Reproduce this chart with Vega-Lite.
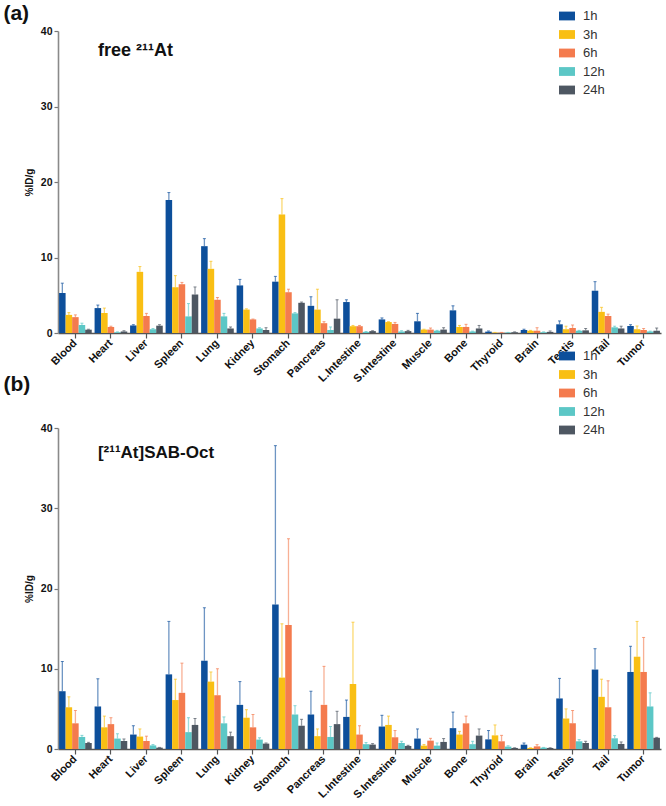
{
  "$schema": "https://vega.github.io/schema/vega-lite/v6.json",
  "padding": {"left": 3, "top": 3, "right": 4, "bottom": 4},
  "background": "white",
  "config": {
    "font": "Liberation Sans",
    "view": {"stroke": null},
    "axis": {"grid": false}
  },
  "datasets": {
    "d": [
      {"p":"a","o":"Blood","t":"1h","m":5.3,"e":6.6},{"p":"a","o":"Blood","t":"3h","m":2.4,"e":2.7},{"p":"a","o":"Blood","t":"6h","m":2.1,"e":2.4},{"p":"a","o":"Blood","t":"12h","m":1.06,"e":1.3},{"p":"a","o":"Blood","t":"24h","m":0.44,"e":0.5},
      {"p":"a","o":"Heart","t":"1h","m":3.3,"e":3.7},{"p":"a","o":"Heart","t":"3h","m":2.65,"e":3.3},{"p":"a","o":"Heart","t":"6h","m":0.8,"e":0.9},{"p":"a","o":"Heart","t":"12h","m":0.1,"e":0.15},{"p":"a","o":"Heart","t":"24h","m":0.2,"e":0.3},
      {"p":"a","o":"Liver","t":"1h","m":1.0,"e":1.1},{"p":"a","o":"Liver","t":"3h","m":8.1,"e":8.8},{"p":"a","o":"Liver","t":"6h","m":2.25,"e":2.6},{"p":"a","o":"Liver","t":"12h","m":0.5,"e":0.6},{"p":"a","o":"Liver","t":"24h","m":0.97,"e":1.1},
      {"p":"a","o":"Spleen","t":"1h","m":17.6,"e":18.6},{"p":"a","o":"Spleen","t":"3h","m":6.06,"e":7.6},{"p":"a","o":"Spleen","t":"6h","m":6.46,"e":6.7},{"p":"a","o":"Spleen","t":"12h","m":2.2,"e":3.9},{"p":"a","o":"Spleen","t":"24h","m":5.1,"e":6.1},
      {"p":"a","o":"Lung","t":"1h","m":11.5,"e":12.5},{"p":"a","o":"Lung","t":"3h","m":8.5,"e":9.5},{"p":"a","o":"Lung","t":"6h","m":4.4,"e":4.7},{"p":"a","o":"Lung","t":"12h","m":2.2,"e":2.6},{"p":"a","o":"Lung","t":"24h","m":0.6,"e":0.8},
      {"p":"a","o":"Kidney","t":"1h","m":6.3,"e":7.1},{"p":"a","o":"Kidney","t":"3h","m":3.1,"e":3.2},{"p":"a","o":"Kidney","t":"6h","m":1.8,"e":1.85},{"p":"a","o":"Kidney","t":"12h","m":0.6,"e":0.7},{"p":"a","o":"Kidney","t":"24h","m":0.4,"e":0.7},
      {"p":"a","o":"Stomach","t":"1h","m":6.8,"e":7.5},{"p":"a","o":"Stomach","t":"3h","m":15.7,"e":17.8},{"p":"a","o":"Stomach","t":"6h","m":5.4,"e":5.8},{"p":"a","o":"Stomach","t":"12h","m":2.6,"e":2.7},{"p":"a","o":"Stomach","t":"24h","m":4.0,"e":4.1},
      {"p":"a","o":"Pancreas","t":"1h","m":3.6,"e":4.8},{"p":"a","o":"Pancreas","t":"3h","m":3.1,"e":5.8},{"p":"a","o":"Pancreas","t":"6h","m":1.3,"e":1.5},{"p":"a","o":"Pancreas","t":"12h","m":0.4,"e":0.8},{"p":"a","o":"Pancreas","t":"24h","m":1.9,"e":4.4},
      {"p":"a","o":"L.Intestine","t":"1h","m":4.1,"e":4.4},{"p":"a","o":"L.Intestine","t":"3h","m":0.9,"e":1.0},{"p":"a","o":"L.Intestine","t":"6h","m":0.9,"e":1.0},{"p":"a","o":"L.Intestine","t":"12h","m":0.15,"e":0.2},{"p":"a","o":"L.Intestine","t":"24h","m":0.25,"e":0.3},
      {"p":"a","o":"S.Intestine","t":"1h","m":1.8,"e":2.0},{"p":"a","o":"S.Intestine","t":"3h","m":1.45,"e":1.5},{"p":"a","o":"S.Intestine","t":"6h","m":1.2,"e":1.4},{"p":"a","o":"S.Intestine","t":"12h","m":0.2,"e":0.3},{"p":"a","o":"S.Intestine","t":"24h","m":0.25,"e":0.35},
      {"p":"a","o":"Muscle","t":"1h","m":1.55,"e":2.6},{"p":"a","o":"Muscle","t":"3h","m":0.45,"e":0.5},{"p":"a","o":"Muscle","t":"6h","m":0.45,"e":0.66},{"p":"a","o":"Muscle","t":"12h","m":0.3,"e":0.35},{"p":"a","o":"Muscle","t":"24h","m":0.45,"e":0.7},
      {"p":"a","o":"Bone","t":"1h","m":3.0,"e":3.6},{"p":"a","o":"Bone","t":"3h","m":0.8,"e":1.0},{"p":"a","o":"Bone","t":"6h","m":0.8,"e":1.15},{"p":"a","o":"Bone","t":"12h","m":0.2,"e":0.25},{"p":"a","o":"Bone","t":"24h","m":0.6,"e":1.0},
      {"p":"a","o":"Thyroid","t":"1h","m":0.18,"e":0.27},{"p":"a","o":"Thyroid","t":"3h","m":0.05,"e":0.08},{"p":"a","o":"Thyroid","t":"6h","m":0.05,"e":0.08},{"p":"a","o":"Thyroid","t":"12h","m":0.05,"e":0.08},{"p":"a","o":"Thyroid","t":"24h","m":0.1,"e":0.15},
      {"p":"a","o":"Brain","t":"1h","m":0.4,"e":0.5},{"p":"a","o":"Brain","t":"3h","m":0.3,"e":0.35},{"p":"a","o":"Brain","t":"6h","m":0.3,"e":0.7},{"p":"a","o":"Brain","t":"12h","m":0.1,"e":0.15},{"p":"a","o":"Brain","t":"24h","m":0.15,"e":0.27},
      {"p":"a","o":"Testis","t":"1h","m":1.15,"e":1.6},{"p":"a","o":"Testis","t":"3h","m":0.5,"e":0.9},{"p":"a","o":"Testis","t":"6h","m":0.66,"e":1.06},{"p":"a","o":"Testis","t":"12h","m":0.3,"e":0.35},{"p":"a","o":"Testis","t":"24h","m":0.35,"e":0.6},
      {"p":"a","o":"Tail","t":"1h","m":5.6,"e":6.8},{"p":"a","o":"Tail","t":"3h","m":2.8,"e":3.4},{"p":"a","o":"Tail","t":"6h","m":2.25,"e":2.5},{"p":"a","o":"Tail","t":"12h","m":0.75,"e":0.9},{"p":"a","o":"Tail","t":"24h","m":0.6,"e":0.9},
      {"p":"a","o":"Tumor","t":"1h","m":0.93,"e":1.1},{"p":"a","o":"Tumor","t":"3h","m":0.5,"e":0.93},{"p":"a","o":"Tumor","t":"6h","m":0.4,"e":0.6},{"p":"a","o":"Tumor","t":"12h","m":0.2,"e":0.25},{"p":"a","o":"Tumor","t":"24h","m":0.3,"e":0.66},
      {"p":"b","o":"Blood","t":"1h","m":7.2,"e":10.9},{"p":"b","o":"Blood","t":"3h","m":5.2,"e":6.5},{"p":"b","o":"Blood","t":"6h","m":3.2,"e":4.8},{"p":"b","o":"Blood","t":"12h","m":1.5,"e":1.7},{"p":"b","o":"Blood","t":"24h","m":0.75,"e":0.83},
      {"p":"b","o":"Heart","t":"1h","m":5.3,"e":8.75},{"p":"b","o":"Heart","t":"3h","m":2.7,"e":4.1},{"p":"b","o":"Heart","t":"6h","m":3.1,"e":3.9},{"p":"b","o":"Heart","t":"12h","m":1.3,"e":1.9},{"p":"b","o":"Heart","t":"24h","m":1.0,"e":1.25},
      {"p":"b","o":"Liver","t":"1h","m":1.8,"e":2.9},{"p":"b","o":"Liver","t":"3h","m":1.55,"e":2.5},{"p":"b","o":"Liver","t":"6h","m":1.0,"e":1.6},{"p":"b","o":"Liver","t":"12h","m":0.45,"e":0.55},{"p":"b","o":"Liver","t":"24h","m":0.17,"e":0.2},
      {"p":"b","o":"Spleen","t":"1h","m":9.3,"e":15.9},{"p":"b","o":"Spleen","t":"3h","m":6.1,"e":8.7},{"p":"b","o":"Spleen","t":"6h","m":7.0,"e":10.7},{"p":"b","o":"Spleen","t":"12h","m":2.1,"e":3.9},{"p":"b","o":"Spleen","t":"24h","m":3.0,"e":3.8},
      {"p":"b","o":"Lung","t":"1h","m":11.0,"e":17.6},{"p":"b","o":"Lung","t":"3h","m":8.4,"e":9.6},{"p":"b","o":"Lung","t":"6h","m":6.7,"e":10.0},{"p":"b","o":"Lung","t":"12h","m":3.2,"e":4.0},{"p":"b","o":"Lung","t":"24h","m":1.6,"e":2.1},
      {"p":"b","o":"Kidney","t":"1h","m":5.5,"e":8.4},{"p":"b","o":"Kidney","t":"3h","m":3.9,"e":4.9},{"p":"b","o":"Kidney","t":"6h","m":2.7,"e":4.3},{"p":"b","o":"Kidney","t":"12h","m":1.17,"e":1.4},{"p":"b","o":"Kidney","t":"24h","m":0.67,"e":0.75},
      {"p":"b","o":"Stomach","t":"1h","m":18.0,"e":37.8},{"p":"b","o":"Stomach","t":"3h","m":8.9,"e":15.6},{"p":"b","o":"Stomach","t":"6h","m":15.45,"e":26.2},{"p":"b","o":"Stomach","t":"12h","m":4.3,"e":5.4},{"p":"b","o":"Stomach","t":"24h","m":2.9,"e":3.7},
      {"p":"b","o":"Pancreas","t":"1h","m":4.3,"e":7.2},{"p":"b","o":"Pancreas","t":"3h","m":1.6,"e":2.5},{"p":"b","o":"Pancreas","t":"6h","m":5.5,"e":10.3},{"p":"b","o":"Pancreas","t":"12h","m":1.5,"e":2.8},{"p":"b","o":"Pancreas","t":"24h","m":3.1,"e":4.7},
      {"p":"b","o":"L.Intestine","t":"1h","m":4.0,"e":6.1},{"p":"b","o":"L.Intestine","t":"3h","m":8.1,"e":15.8},{"p":"b","o":"L.Intestine","t":"6h","m":1.8,"e":2.9},{"p":"b","o":"L.Intestine","t":"12h","m":0.6,"e":0.8},{"p":"b","o":"L.Intestine","t":"24h","m":0.55,"e":0.67},
      {"p":"b","o":"S.Intestine","t":"1h","m":2.8,"e":4.2},{"p":"b","o":"S.Intestine","t":"3h","m":3.0,"e":4.1},{"p":"b","o":"S.Intestine","t":"6h","m":1.46,"e":2.3},{"p":"b","o":"S.Intestine","t":"12h","m":0.75,"e":0.96},{"p":"b","o":"S.Intestine","t":"24h","m":0.38,"e":0.46},
      {"p":"b","o":"Muscle","t":"1h","m":1.3,"e":2.5},{"p":"b","o":"Muscle","t":"3h","m":0.42,"e":0.55},{"p":"b","o":"Muscle","t":"6h","m":1.04,"e":1.33},{"p":"b","o":"Muscle","t":"12h","m":0.42,"e":0.75},{"p":"b","o":"Muscle","t":"24h","m":0.88,"e":1.3},
      {"p":"b","o":"Bone","t":"1h","m":2.6,"e":4.6},{"p":"b","o":"Bone","t":"3h","m":1.8,"e":2.2},{"p":"b","o":"Bone","t":"6h","m":3.2,"e":4.1},{"p":"b","o":"Bone","t":"12h","m":0.6,"e":0.96},{"p":"b","o":"Bone","t":"24h","m":1.67,"e":2.5},
      {"p":"b","o":"Thyroid","t":"1h","m":1.2,"e":2.3},{"p":"b","o":"Thyroid","t":"3h","m":1.7,"e":3.0},{"p":"b","o":"Thyroid","t":"6h","m":0.96,"e":1.7},{"p":"b","o":"Thyroid","t":"12h","m":0.3,"e":0.4},{"p":"b","o":"Thyroid","t":"24h","m":0.13,"e":0.15},
      {"p":"b","o":"Brain","t":"1h","m":0.54,"e":0.75},{"p":"b","o":"Brain","t":"3h","m":0.13,"e":0.15},{"p":"b","o":"Brain","t":"6h","m":0.33,"e":0.54},{"p":"b","o":"Brain","t":"12h","m":0.17,"e":0.2},{"p":"b","o":"Brain","t":"24h","m":0.13,"e":0.15},
      {"p":"b","o":"Testis","t":"1h","m":6.3,"e":8.8},{"p":"b","o":"Testis","t":"3h","m":3.8,"e":5.0},{"p":"b","o":"Testis","t":"6h","m":3.2,"e":4.8},{"p":"b","o":"Testis","t":"12h","m":0.96,"e":1.17},{"p":"b","o":"Testis","t":"24h","m":0.75,"e":0.96},
      {"p":"b","o":"Tail","t":"1h","m":9.9,"e":12.5},{"p":"b","o":"Tail","t":"3h","m":6.5,"e":8.7},{"p":"b","o":"Tail","t":"6h","m":5.2,"e":8.5},{"p":"b","o":"Tail","t":"12h","m":1.33,"e":1.67},{"p":"b","o":"Tail","t":"24h","m":0.63,"e":0.88},
      {"p":"b","o":"Tumor","t":"1h","m":9.6,"e":12.8},{"p":"b","o":"Tumor","t":"3h","m":11.5,"e":15.9},{"p":"b","o":"Tumor","t":"6h","m":9.6,"e":13.9},{"p":"b","o":"Tumor","t":"12h","m":5.3,"e":7.0},{"p":"b","o":"Tumor","t":"24h","m":1.4,"e":1.45}
    ],
    "labels": [
      {"p":"a","label":"free ²¹¹At","y":37.4,"tag":"(a)"},
      {"p":"b","label":"[²¹¹At]SAB-Oct","y":36.9,"tag":"(b)"}
    ]
  },
  "bounds": "flush",
  "spacing": 95,
  "resolve": {"scale": {"y": "independent", "x": "independent"}, "legend": {"color": "independent"}},
  "vconcat": [
    {
      "width": 603,
      "height": 302,
      "layer": [
        {
          "data": {"name": "d"},
          "transform": [{"filter": "datum.p == 'a'"}],
          "mark": {"type": "bar"},
          "encoding": {
            "x": {"field": "o", "type": "nominal", "sort": ["Blood","Heart","Liver","Spleen","Lung","Kidney","Stomach","Pancreas","L.Intestine","S.Intestine","Muscle","Bone","Thyroid","Brain","Testis","Tail","Tumor"], "scale": {"paddingInner": 0.08, "paddingOuter": 0.03},
              "axis": {"title": null, "labelAngle": -45, "labelAlign": "right", "labelBaseline": "middle", "labelFontSize": 11, "labelFontWeight": "bold", "labelColor": "#111", "labelPadding": 3, "domainColor": "#555", "domainWidth": 1.5, "tickColor": "#555", "tickWidth": 1.2, "tickSize": 5}},
            "xOffset": {"field": "t", "type": "nominal", "sort": ["1h","3h","6h","12h","24h"], "scale": {"paddingInner": 0, "paddingOuter": 0}},
            "y": {"field": "m", "type": "quantitative", "scale": {"domain": [0, 40], "nice": false},
              "axis": {"title": "%ID/g", "values": [0,10,20,30,40], "labelFontSize": 10.5, "labelFontWeight": "bold", "labelColor": "#111", "labelPadding": 2, "titleFontSize": 10, "titleFontWeight": "bold", "titleColor": "#111", "titlePadding": 6, "domainColor": "#8a8a8a", "domainWidth": 1.6, "tickColor": "#777", "tickSize": 4, "tickWidth": 1.2}},
            "color": {"field": "t", "type": "nominal", "sort": ["1h","3h","6h","12h","24h"],
              "scale": {"domain": ["1h","3h","6h","12h","24h"], "range": ["#0d4f9b","#f9bf14","#f47b4e","#5cc7c6","#4e5762"]},
              "legend": {"orient": "none", "legendX": 501, "legendY": -23, "title": null, "padding": 0, "symbolType": "M-1,-0.55H1V0.55H-1Z", "symbolSize": 256, "symbolStrokeWidth": 0, "symbolOpacity": 1, "labelFontSize": 13, "labelColor": "#333", "labelOffset": 8, "rowPadding": 3.5,
                "encode": {"symbols": {"update": {"opacity": {"value": 1}, "fillOpacity": {"value": 1}, "strokeOpacity": {"value": 0}}}}}}
          }
        },
        {
          "data": {"name": "d"},
          "transform": [{"filter": "datum.p == 'a'"}],
          "mark": {"type": "rule", "strokeWidth": 1.3, "strokeOpacity": 0.6},
          "encoding": {
            "x": {"field": "o", "type": "nominal", "sort": ["Blood","Heart","Liver","Spleen","Lung","Kidney","Stomach","Pancreas","L.Intestine","S.Intestine","Muscle","Bone","Thyroid","Brain","Testis","Tail","Tumor"]},
            "xOffset": {"field": "t", "type": "nominal", "sort": ["1h","3h","6h","12h","24h"]},
            "y": {"field": "m", "type": "quantitative"},
            "y2": {"field": "e"},
            "color": {"field": "t", "type": "nominal", "sort": ["1h","3h","6h","12h","24h"], "legend": null}
          }
        },
        {
          "data": {"name": "d"},
          "transform": [{"filter": "datum.p == 'a'"}],
          "mark": {"type": "tick", "thickness": 1, "size": 3, "strokeOpacity": 0.7, "fillOpacity": 0.7},
          "encoding": {
            "x": {"field": "o", "type": "nominal", "sort": ["Blood","Heart","Liver","Spleen","Lung","Kidney","Stomach","Pancreas","L.Intestine","S.Intestine","Muscle","Bone","Thyroid","Brain","Testis","Tail","Tumor"]},
            "xOffset": {"field": "t", "type": "nominal", "sort": ["1h","3h","6h","12h","24h"]},
            "y": {"field": "e", "type": "quantitative"},
            "color": {"field": "t", "type": "nominal", "sort": ["1h","3h","6h","12h","24h"], "legend": null}
          }
        },
        {
          "data": {"name": "labels"},
          "transform": [{"filter": "datum.p == 'a'"}],
          "mark": {"type": "text", "align": "left", "baseline": "middle", "dx": -13, "fontSize": 18, "fontWeight": "bold", "color": "#111"},
          "encoding": {
            "x": {"datum": "Heart"},
            "y": {"field": "y", "type": "quantitative"},
            "text": {"field": "label"}
          }
        },
        {
          "data": {"name": "labels"},
          "transform": [{"filter": "datum.p == 'a'"}],
          "mark": {"type": "text", "align": "left", "baseline": "alphabetic", "dx": -72, "dy": -11, "fontSize": 21, "fontWeight": "bold", "color": "#111"},
          "encoding": {
            "x": {"datum": "Blood"},
            "y": {"datum": 40},
            "text": {"field": "tag"}
          }
        }
      ]
    },
    {
      "width": 603,
      "height": 321,
      "layer": [
        {
          "data": {"name": "d"},
          "transform": [{"filter": "datum.p == 'b'"}],
          "mark": {"type": "bar"},
          "encoding": {
            "x": {"field": "o", "type": "nominal", "sort": ["Blood","Heart","Liver","Spleen","Lung","Kidney","Stomach","Pancreas","L.Intestine","S.Intestine","Muscle","Bone","Thyroid","Brain","Testis","Tail","Tumor"], "scale": {"paddingInner": 0.08, "paddingOuter": 0.03},
              "axis": {"title": null, "labelAngle": -45, "labelAlign": "right", "labelBaseline": "middle", "labelFontSize": 11, "labelFontWeight": "bold", "labelColor": "#111", "labelPadding": 3, "domainColor": "#555", "domainWidth": 1.5, "tickColor": "#555", "tickWidth": 1.2, "tickSize": 5}},
            "xOffset": {"field": "t", "type": "nominal", "sort": ["1h","3h","6h","12h","24h"], "scale": {"paddingInner": 0, "paddingOuter": 0}},
            "y": {"field": "m", "type": "quantitative", "scale": {"domain": [0, 40], "nice": false},
              "axis": {"title": "%ID/g", "values": [0,10,20,30,40], "labelFontSize": 10.5, "labelFontWeight": "bold", "labelColor": "#111", "labelPadding": 2, "titleFontSize": 10, "titleFontWeight": "bold", "titleColor": "#111", "titlePadding": 6, "domainColor": "#8a8a8a", "domainWidth": 1.6, "tickColor": "#777", "tickSize": 4, "tickWidth": 1.2}},
            "color": {"field": "t", "type": "nominal", "sort": ["1h","3h","6h","12h","24h"],
              "scale": {"domain": ["1h","3h","6h","12h","24h"], "range": ["#0d4f9b","#f9bf14","#f47b4e","#5cc7c6","#4e5762"]},
              "legend": {"orient": "none", "legendX": 501, "legendY": -80, "title": null, "padding": 0, "symbolType": "M-1,-0.55H1V0.55H-1Z", "symbolSize": 256, "symbolStrokeWidth": 0, "symbolOpacity": 1, "labelFontSize": 13, "labelColor": "#333", "labelOffset": 8, "rowPadding": 3.5,
                "encode": {"symbols": {"update": {"opacity": {"value": 1}, "fillOpacity": {"value": 1}, "strokeOpacity": {"value": 0}}}}}}
          }
        },
        {
          "data": {"name": "d"},
          "transform": [{"filter": "datum.p == 'b'"}],
          "mark": {"type": "rule", "strokeWidth": 1.3, "strokeOpacity": 0.6},
          "encoding": {
            "x": {"field": "o", "type": "nominal", "sort": ["Blood","Heart","Liver","Spleen","Lung","Kidney","Stomach","Pancreas","L.Intestine","S.Intestine","Muscle","Bone","Thyroid","Brain","Testis","Tail","Tumor"]},
            "xOffset": {"field": "t", "type": "nominal", "sort": ["1h","3h","6h","12h","24h"]},
            "y": {"field": "m", "type": "quantitative"},
            "y2": {"field": "e"},
            "color": {"field": "t", "type": "nominal", "sort": ["1h","3h","6h","12h","24h"], "legend": null}
          }
        },
        {
          "data": {"name": "d"},
          "transform": [{"filter": "datum.p == 'b'"}],
          "mark": {"type": "tick", "thickness": 1, "size": 3, "strokeOpacity": 0.7, "fillOpacity": 0.7},
          "encoding": {
            "x": {"field": "o", "type": "nominal", "sort": ["Blood","Heart","Liver","Spleen","Lung","Kidney","Stomach","Pancreas","L.Intestine","S.Intestine","Muscle","Bone","Thyroid","Brain","Testis","Tail","Tumor"]},
            "xOffset": {"field": "t", "type": "nominal", "sort": ["1h","3h","6h","12h","24h"]},
            "y": {"field": "e", "type": "quantitative"},
            "color": {"field": "t", "type": "nominal", "sort": ["1h","3h","6h","12h","24h"], "legend": null}
          }
        },
        {
          "data": {"name": "labels"},
          "transform": [{"filter": "datum.p == 'b'"}],
          "mark": {"type": "text", "align": "left", "baseline": "middle", "dx": -13, "fontSize": 17, "fontWeight": "bold", "color": "#111"},
          "encoding": {
            "x": {"datum": "Heart"},
            "y": {"field": "y", "type": "quantitative"},
            "text": {"field": "label"}
          }
        },
        {
          "data": {"name": "labels"},
          "transform": [{"filter": "datum.p == 'b'"}],
          "mark": {"type": "text", "align": "left", "baseline": "alphabetic", "dx": -72, "dy": -37, "fontSize": 21, "fontWeight": "bold", "color": "#111"},
          "encoding": {
            "x": {"datum": "Blood"},
            "y": {"datum": 40},
            "text": {"field": "tag"}
          }
        }
      ]
    }
  ]
}
